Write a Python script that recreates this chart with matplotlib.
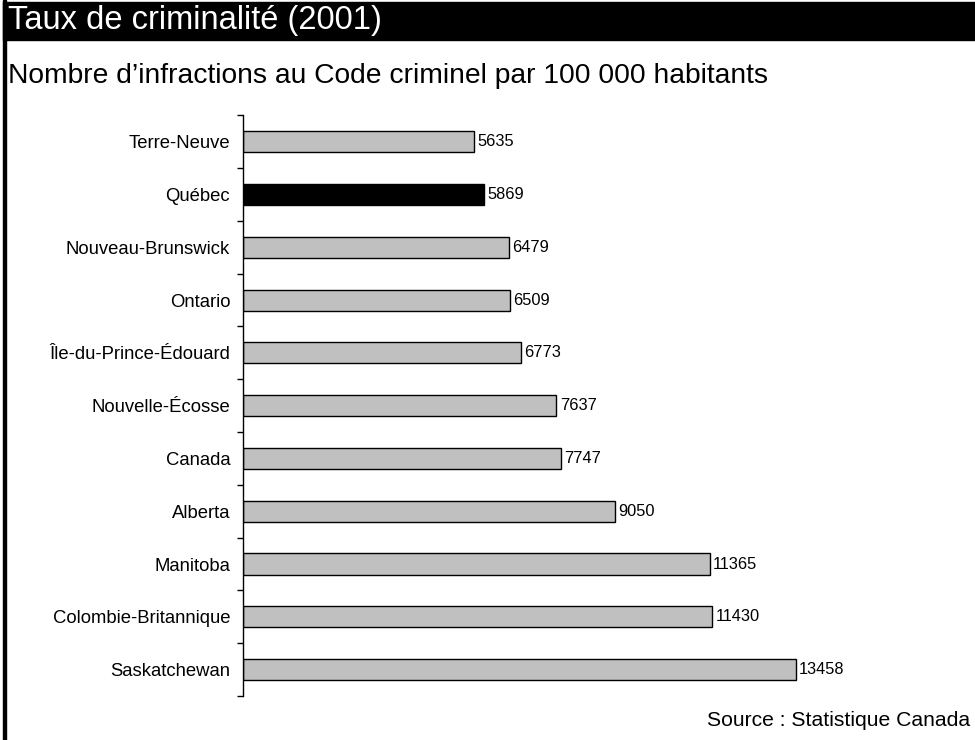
import matplotlib.pyplot as plt
import numpy as np
from matplotlib.patches import Rectangle

plt.rcParams['font.family'] = 'Liberation Sans'

provinces = ['Terre-Neuve', 'Québec', 'Nouveau-Brunswick', 'Ontario',
             'Île-du-Prince-Édouard', 'Nouvelle-Écosse', 'Canada', 'Alberta',
             'Manitoba', 'Colombie-Britannique', 'Saskatchewan']
taux = [5635, 5869, 6479, 6509, 6773, 7637, 7747, 9050, 11365, 11430, 13458]
couleurs = ['#c0c0c0', 'black'] + ['#c0c0c0'] * 9

titre = 'Taux de criminalité (2001)'
sous_titre = 'Nombre d\u2019infractions au Code criminel par 100 000 habitants'
source = 'Source : Statistique Canada'

fig = plt.figure(figsize=(9.75, 7.4), dpi=100, facecolor='white')

# bandeau noir du titre et bordure gauche
fig.patches.append(Rectangle((3 / 975, 1 - 40 / 740), 1, 38 / 740,
                             transform=fig.transFigure, color='black', zorder=0))
fig.patches.append(Rectangle((3 / 975, 0), 3 / 975, 1,
                             transform=fig.transFigure, color='black', zorder=0))
fig.text(8 / 975, 1 - 21 / 740, titre, color='white', fontsize=23.5, va='center')
fig.text(8 / 975, 1 - 76 / 740, sous_titre, color='black', fontsize=20.3, va='center')
fig.text(970 / 975, 1 - 721 / 740, source, color='black', fontsize=15.2,
         va='center', ha='right')

ax = fig.add_axes([242.7 / 975, 44 / 740, 698.5 / 975, 580.7 / 740])
y = np.arange(len(provinces))
ax.barh(y, taux, height=0.4, color=couleurs, edgecolor='black', linewidth=1)
for yi, v in zip(y, taux):
    ax.annotate(str(v), (v, yi), xytext=(2.5, 0), textcoords='offset points',
                va='center', ha='left', fontsize=11.8)

ax.set_xlim(0, 17000)
ax.set_ylim(len(provinces) - 0.5, -0.5)
ax.set_xticks([])
ax.set_yticks(np.arange(len(provinces) + 1) - 0.5)
ax.set_yticklabels([])
ax.set_yticks(y, minor=True)
ax.set_yticklabels(provinces, minor=True, fontsize=13.3)
ax.tick_params(axis='y', which='major', length=4.5, width=1)
ax.tick_params(axis='y', which='minor', length=0, pad=9)
for s in ['top', 'right', 'bottom']:
    ax.spines[s].set_visible(False)
ax.spines['left'].set_linewidth(1)

fig.savefig('out.png', dpi=100)
